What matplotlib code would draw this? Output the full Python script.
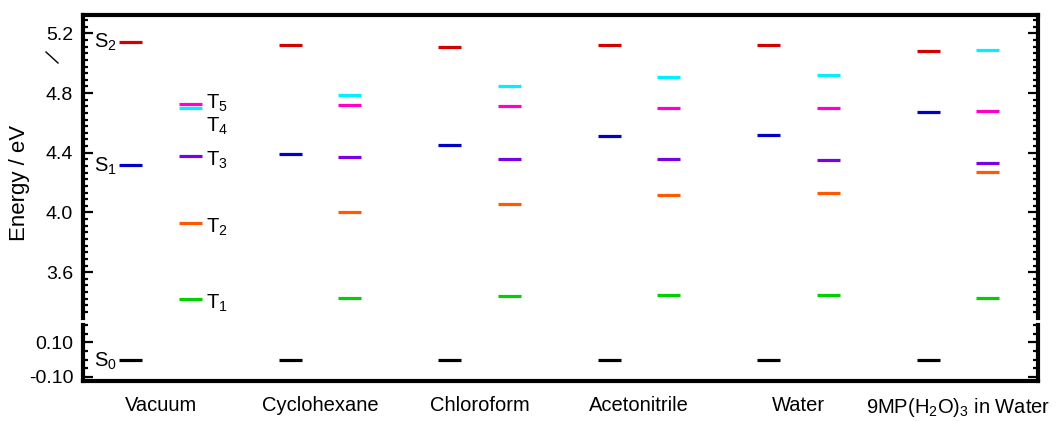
'''
    Energy level diagram of 9MP in several solvents
'''
import matplotlib
matplotlib.use('Agg')
import matplotlib.pyplot as plt
from matplotlib.lines import Line2D
from matplotlib.ticker import FixedLocator, MultipleLocator, AutoMinorLocator

plt.rcParams['font.family'] = ['Liberation Sans', 'DejaVu Sans']
plt.rcParams['mathtext.fontset'] = 'custom'
plt.rcParams['mathtext.rm'] = 'Liberation Sans'
plt.rcParams['mathtext.it'] = 'Liberation Sans:italic'
plt.rcParams['axes.unicode_minus'] = False

categories = ['Vacuum', 'Cyclohexane', 'Chloroform', 'Acetonitrile', 'Water',
              r'9MP(H$_\mathrm{2}$O)$_\mathrm{3}$ in Water']
s0 = [0.0, 0.0, 0.0, 0.0, 0.0, 0.0]
s1 = [4.32, 4.39, 4.45, 4.51, 4.52, 4.67]
s2 = [5.14, 5.12, 5.11, 5.12, 5.12, 5.08]
t1 = [3.42, 3.43, 3.44, 3.45, 3.45, 3.43]
t2 = [3.93, 4.00, 4.06, 4.12, 4.13, 4.27]
t3 = [4.38, 4.37, 4.36, 4.36, 4.35, 4.33]
t4 = [4.70, 4.79, 4.85, 4.91, 4.92, 5.09]
t5 = [4.73, 4.72, 4.71, 4.70, 4.70, 4.68]

T_SHIFT = 0.373
HALF = 0.072


def style_axis(ax, top, bottom):
    '''Thick frame with inward ticks on both sides'''
    for side in ['left', 'right']:
        ax.spines[side].set_linewidth(3)
    ax.spines['top'].set_visible(top)
    ax.spines['bottom'].set_visible(bottom)
    ax.spines['top'].set_linewidth(3)
    ax.spines['bottom'].set_linewidth(3)
    ax.tick_params(axis='y', which='both', direction='in', left=True,
                   right=True, labelsize=14, pad=7)
    ax.tick_params(axis='y', which='major', length=7, width=1.6)
    ax.tick_params(axis='y', which='minor', length=3.5, width=1.6)
    ax.set_xlim(-0.301, 5.687)


def levels(ax, xs, ys, color):
    '''Short horizontal bars for one state'''
    ax.hlines(ys, [x - HALF for x in xs], [x + HALF for x in xs],
              colors=color, linewidth=2.3)


def label(ax, text, x, y, dx, dy, ha):
    '''State name next to a bar'''
    ax.annotate(text, (x, y), xytext=(dx, dy), textcoords='offset points',
                ha=ha, va='center', fontsize=14.5)


def plot_levels():
    '''Draw the broken-axis energy diagram'''
    fig = plt.figure(figsize=(10.63, 4.21), dpi=100)
    ax_top = fig.add_axes([0.078, 0.2447, 0.8985, 0.7193])
    ax_bot = fig.add_axes([0.078, 0.095, 0.8985, 0.133])

    xs = list(range(len(categories)))
    xt = [x + T_SHIFT for x in xs]

    levels(ax_top, xs, s2, '#d40000')
    levels(ax_top, xs, s1, '#0000c8')
    levels(ax_top, xt, t1, '#00d000')
    levels(ax_top, xt, t2, '#ff5a00')
    levels(ax_top, xt, t3, '#7a00e6')
    levels(ax_top, xt, t4, '#00f0ff')
    levels(ax_top, xt, t5, '#ff00cc')
    levels(ax_bot, xs, s0, 'black')

    style_axis(ax_top, True, False)
    style_axis(ax_bot, False, True)

    ax_top.set_ylim(3.293, 5.322)
    ax_top.yaxis.set_major_locator(MultipleLocator(0.4))
    ax_top.yaxis.set_minor_locator(AutoMinorLocator(9))
    ax_top.yaxis.set_major_formatter('{x:.1f}')
    ax_top.set_xticks([])

    ax_bot.set_ylim(-0.124, 0.2)
    ax_bot.yaxis.set_major_locator(FixedLocator([-0.1, 0.1]))
    ax_bot.yaxis.set_minor_locator(MultipleLocator(0.05))
    ax_bot.yaxis.set_major_formatter('{x:.2f}')
    ax_bot.set_xticks([x + T_SHIFT / 2 for x in xs])
    ax_bot.set_xticklabels(categories, fontsize=14.5)
    ax_bot.tick_params(axis='x', length=0, pad=11)

    lx = -HALF
    rx = T_SHIFT + HALF
    label(ax_top, r'S$_\mathrm{2}$', lx, s2[0], -2, 0, 'right')
    label(ax_top, r'S$_\mathrm{1}$', lx, s1[0], -2, -1, 'right')
    label(ax_bot, r'S$_\mathrm{0}$', lx, s0[0], -2, -1, 'right')
    label(ax_top, r'T$_\mathrm{5}$', rx, t5[0], 3, 0, 'left')
    label(ax_top, r'T$_\mathrm{4}$', rx, t4[0], 3, -13, 'left')
    label(ax_top, r'T$_\mathrm{3}$', rx, t3[0], 3, -3, 'left')
    label(ax_top, r'T$_\mathrm{2}$', rx, t2[0], 3, -3, 'left')
    label(ax_top, r'T$_\mathrm{1}$', rx, t1[0], 3, -3, 'left')

    fig.text(0.018, 0.565, 'Energy / eV', rotation=90, ha='center',
             va='center', fontsize=16)
    fig.add_artist(Line2D([46 / 1063, 58 / 1063], [1 - 52 / 421, 1 - 63 / 421],
                          transform=fig.transFigure, color='black', lw=1))

    fig.savefig('out.png', dpi=100)


plot_levels()
